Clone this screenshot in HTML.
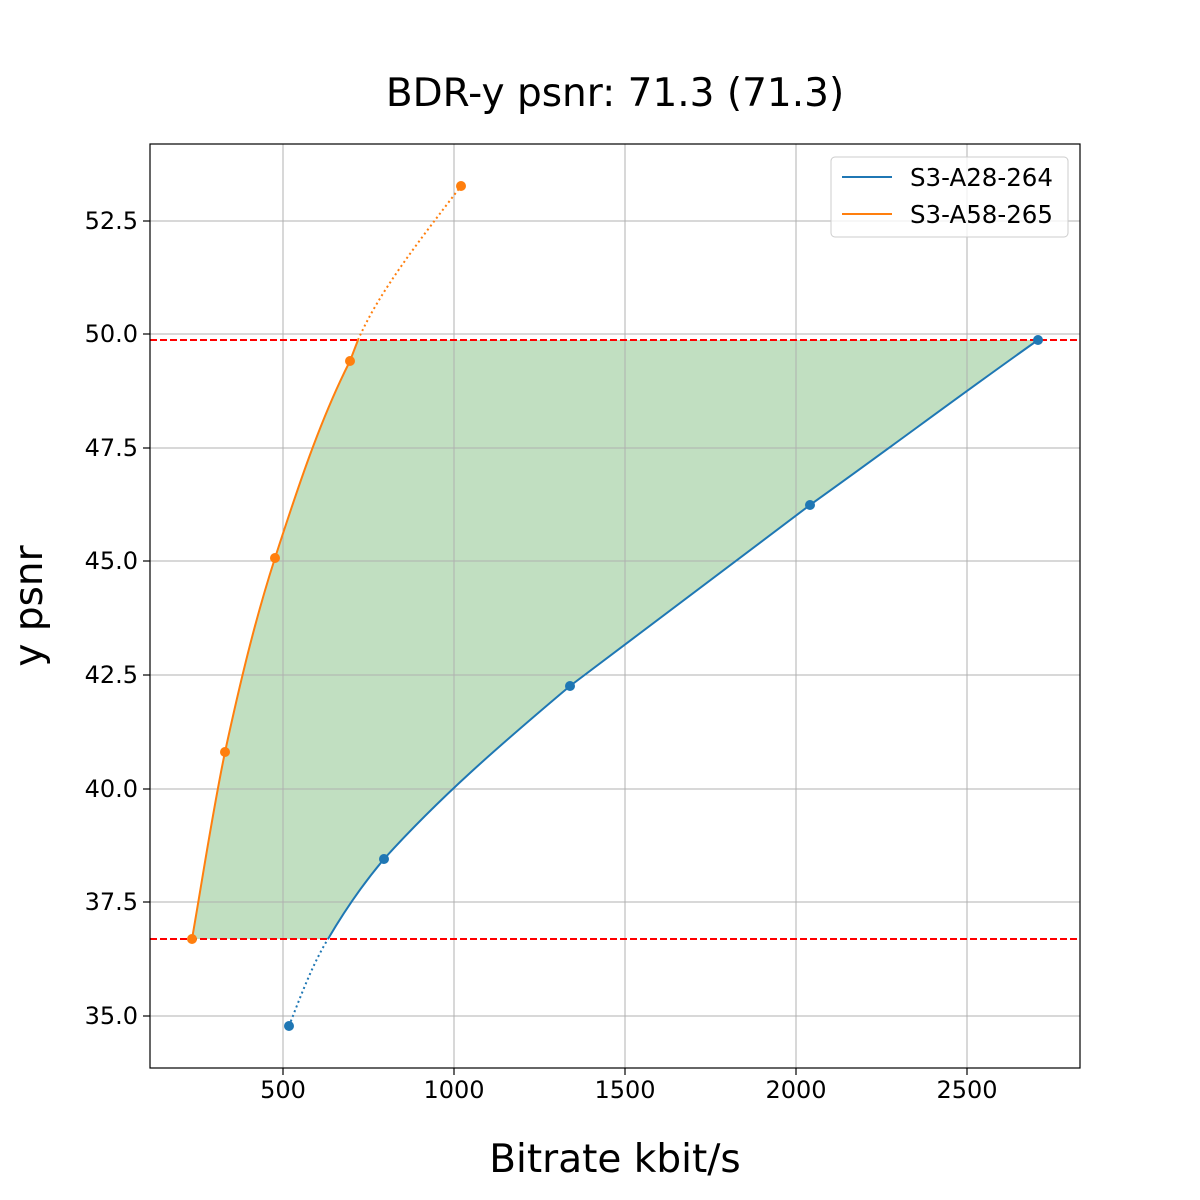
<!DOCTYPE html>
<html><head><meta charset="utf-8"><style>body{margin:0;background:#fff}svg{display:block}text{font-family:"DejaVu Sans","Liberation Sans",sans-serif;fill:#000}</style></head>
<body>
<svg width="1200" height="1200" viewBox="0 0 1200 1200" xmlns="http://www.w3.org/2000/svg">
<rect width="1200" height="1200" fill="#fff"/>
<path d="M192,939 C203,876 212,815 225,752 C240,683 255,620 275,558 C297,490 320,420 350,361 L358,340 L1038,340 C960,395 890,448 810,505 C730,565 650,625 570,686 C500,745 440,797 384,859 C362,885 345,910 328,939 Z" fill="#c1dfc1"/>
<g stroke="#b0b0b0" stroke-width="1">
<line x1="283" y1="144" x2="283" y2="1068"/><line x1="454" y1="144" x2="454" y2="1068"/><line x1="625" y1="144" x2="625" y2="1068"/><line x1="796" y1="144" x2="796" y2="1068"/><line x1="967" y1="144" x2="967" y2="1068"/>
<line x1="150" y1="221" x2="1080" y2="221"/><line x1="150" y1="334" x2="1080" y2="334"/><line x1="150" y1="448" x2="1080" y2="448"/><line x1="150" y1="561" x2="1080" y2="561"/><line x1="150" y1="675" x2="1080" y2="675"/><line x1="150" y1="789" x2="1080" y2="789"/><line x1="150" y1="902" x2="1080" y2="902"/><line x1="150" y1="1016" x2="1080" y2="1016"/>
</g>
<line x1="150" y1="340" x2="1080" y2="340" stroke="#ff0000" stroke-width="2" stroke-dasharray="7,3"/>
<line x1="150" y1="939" x2="1080" y2="939" stroke="#ff0000" stroke-width="2" stroke-dasharray="7,3"/>
<path d="M289,1026 C300,998 312,965 328,939" fill="none" stroke="#1f77b4" stroke-width="2" stroke-dasharray="2,3"/>
<path d="M328,939 C345,910 362,885 384,859 C440,797 500,745 570,686 C650,625 730,565 810,505 C890,448 960,395 1038,340" fill="none" stroke="#1f77b4" stroke-width="2"/>
<g fill="#1f77b4"><circle cx="289" cy="1026" r="5"/><circle cx="384" cy="859" r="5"/><circle cx="570" cy="686" r="5"/><circle cx="810" cy="505" r="5"/><circle cx="1038" cy="340" r="5"/></g>
<path d="M192,939 C203,876 212,815 225,752 C240,683 255,620 275,558 C297,490 320,420 350,361 L358,340" fill="none" stroke="#ff7f0e" stroke-width="2"/>
<path d="M358,340 C380,290 420,240 461,186" fill="none" stroke="#ff7f0e" stroke-width="2" stroke-dasharray="2,3"/>
<g fill="#ff7f0e"><circle cx="192" cy="939" r="5"/><circle cx="225" cy="752" r="5"/><circle cx="275" cy="558" r="5"/><circle cx="350" cy="361" r="5"/><circle cx="461" cy="186" r="5"/></g>
<rect x="150" y="144" width="930" height="924" fill="none" stroke="#000" stroke-width="1.2"/>
<g stroke="#000" stroke-width="1.2">
<line x1="283" y1="1068" x2="283" y2="1075"/><line x1="454" y1="1068" x2="454" y2="1075"/><line x1="625" y1="1068" x2="625" y2="1075"/><line x1="796" y1="1068" x2="796" y2="1075"/><line x1="967" y1="1068" x2="967" y2="1075"/>
<line x1="143" y1="221" x2="150" y2="221"/><line x1="143" y1="334" x2="150" y2="334"/><line x1="143" y1="448" x2="150" y2="448"/><line x1="143" y1="561" x2="150" y2="561"/><line x1="143" y1="675" x2="150" y2="675"/><line x1="143" y1="789" x2="150" y2="789"/><line x1="143" y1="902" x2="150" y2="902"/><line x1="143" y1="1016" x2="150" y2="1016"/>
</g>
<g font-size="24" text-anchor="middle">
<text x="283" y="1098">500</text><text x="454" y="1098">1000</text><text x="625" y="1098">1500</text><text x="796" y="1098">2000</text><text x="967" y="1098">2500</text>
</g>
<g font-size="24" text-anchor="end">
<text x="138" y="229">52.5</text><text x="138" y="342">50.0</text><text x="138" y="456">47.5</text><text x="138" y="569">45.0</text><text x="138" y="683">42.5</text><text x="138" y="797">40.0</text><text x="138" y="910">37.5</text><text x="138" y="1024">35.0</text>
</g>
<text x="615" y="106" font-size="39" text-anchor="middle">BDR-y psnr: 71.3 (71.3)</text>
<text x="615" y="1172" font-size="39" text-anchor="middle">Bitrate kbit/s</text>
<text transform="translate(42,606) rotate(-90)" font-size="39" text-anchor="middle">y psnr</text>
<rect x="831" y="157" width="237" height="80" rx="4" fill="#fff" fill-opacity="0.8" stroke="#ccc"/>
<line x1="842" y1="177" x2="892" y2="177" stroke="#1f77b4" stroke-width="2"/>
<line x1="842" y1="214" x2="892" y2="214" stroke="#ff7f0e" stroke-width="2"/>
<text x="910" y="186" font-size="24.5">S3-A28-264</text>
<text x="910" y="223" font-size="24.5">S3-A58-265</text>
</svg>
</body></html>
